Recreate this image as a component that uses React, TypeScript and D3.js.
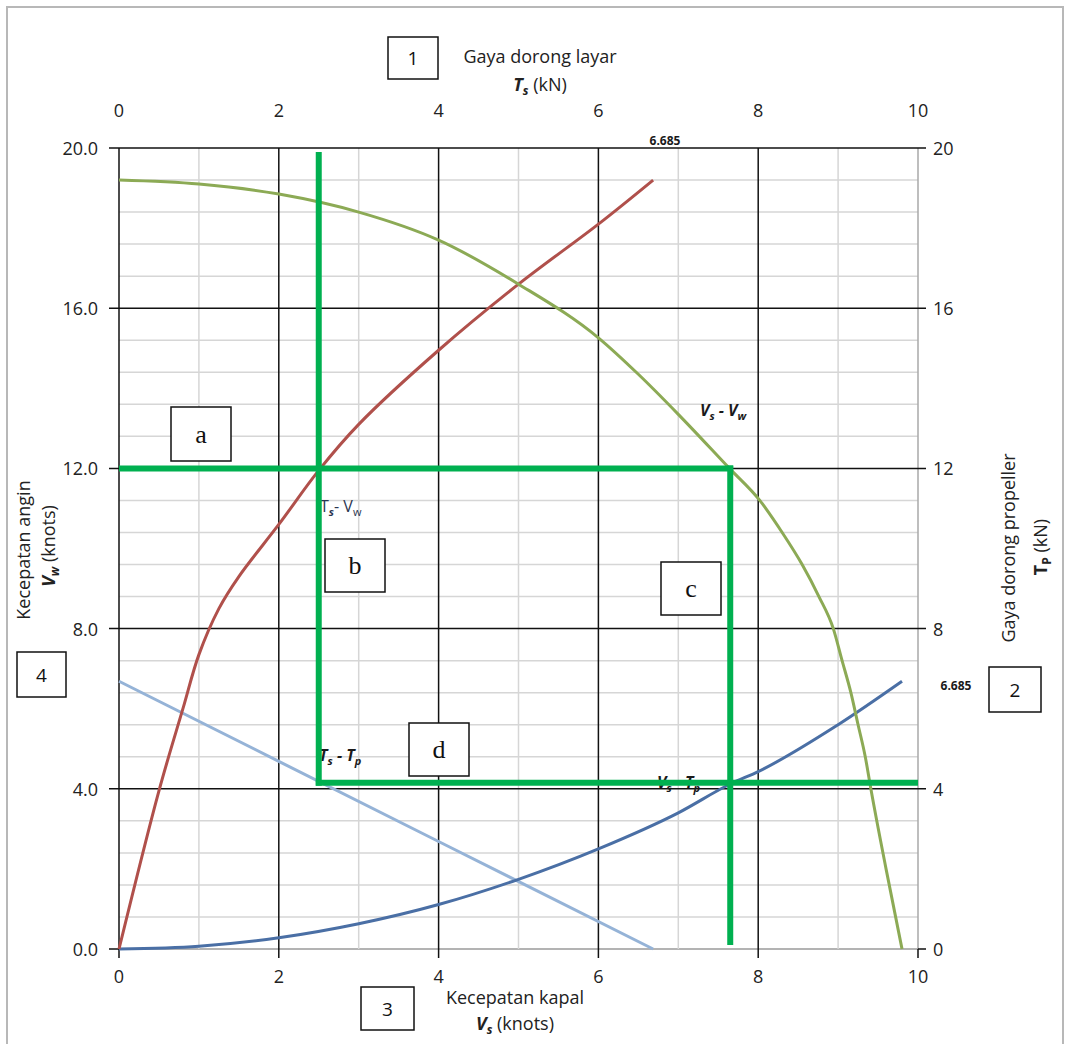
import React from "react";
import * as d3 from "d3";

// Axis ticks
const xTicks = [0, 2, 4, 6, 8, 10];
const xMinor = [1, 3, 5, 7, 9, 10];
const yTicks = [4, 8, 12, 16, 20];
const yMinor = [0, 0.8, 1.6, 2.4, 3.2, 4.8, 5.6, 6.4, 7.2, 8.8, 9.6, 10.4, 11.2, 12.8, 13.6, 14.4, 15.2, 16.8, 17.6, 18.4, 19.2];
const yLeftLabels = ["0.0", "4.0", "8.0", "12.0", "16.0", "20.0"];
const yRightLabels = ["0", "4", "8", "12", "16", "20"];
const yLabelValues = [0, 4, 8, 12, 16, 20];

// Vs - Vw : ship speed vs wind speed
const shipWindX = [0, 1, 2, 3, 4, 5, 6, 6.5, 7, 7.64, 8.02, 8.3, 8.55, 8.76, 8.94, 9.05, 9.16, 9.25, 9.34, 9.41, 9.6, 9.8];
const shipWindY = [19.2, 19.1, 18.85, 18.4, 17.7, 16.6, 15.26, 14.35, 13.35, 12, 11.2, 10.4, 9.6, 8.8, 8, 7.2, 6.4, 5.6, 4.8, 4, 2, 0];

// Ts - Vw : sail thrust vs wind speed
const sailWindX = [0, 0.5, 0.8, 1.0, 1.25, 1.5, 2, 2.5, 3, 4, 5, 6, 6.685];
const sailWindY = [0, 3.95, 6.0, 7.35, 8.5, 9.3, 10.6, 11.95, 13.1, 14.95, 16.6, 18.1, 19.2];

// Ts - Tp : sail thrust vs propeller thrust
const sailPropX = [0, 2, 4, 6.685];
const sailPropY = [6.685, 4.685, 2.685, 0];

// Vs - Tp : ship speed vs propeller thrust
const shipPropX = [0, 1, 2, 3, 4, 5, 6, 7, 7.65, 8, 9, 9.8];
const shipPropY = [0, 0.07, 0.28, 0.63, 1.11, 1.74, 2.5, 3.4, 4.12, 4.43, 5.6, 6.685];

// Reading path
const readWind = 12;
const readSail = 2.5;
const readShip = 7.65;
const readProp = 4.15;

const W = 1065;
const H = 1044;
const FONT = "'Open Sans', 'Noto Sans', sans-serif";
const SERIF = "'Liberation Serif', 'DejaVu Serif', serif";

export default function App() {
  const x = d3.scaleLinear().domain([0, 10]).range([119, 918]);
  const y = d3.scaleLinear().domain([0, 20]).range([949, 148]);

  const curve = (xs: number[], ys: number[], c: d3.CurveFactory = d3.curveMonotoneX) =>
    d3
      .line<number>()
      .x((d) => x(xs[d]))
      .y((d) => y(ys[d]))
      .curve(c)(xs.map((_, i) => i)) as string;

  const box = (x0: number, y0: number, w: number, h: number, label: string, serif: boolean, key: string) => (
    <g key={key}>
      <rect x={x0} y={y0} width={w} height={h} fill="#fff" stroke="#111" strokeWidth={1.5} />
      <text
        x={x0 + w / 2}
        y={y0 + h / 2}
        textAnchor="middle"
        dominantBaseline="central"
        fontFamily={serif ? SERIF : FONT}
        fontSize={serif ? 26 : 19}
        fill="#111"
      >
        {label}
      </text>
    </g>
  );

  const green = "#00b050";

  return (
    <svg
      width={W}
      height={H}
      style={{ position: "absolute", left: 0, top: 0, background: "#fff" }}
    >
      <rect x={0} y={0} width={W} height={H} fill="#fff" />
      <rect x={7} y={7} width={1056} height={1050} fill="none" stroke="#b8b8b8" strokeWidth={2} />

      {/* minor grid */}
      {yMinor.map((v) => (
        <line key={"ym" + v} x1={x(0)} x2={x(10)} y1={y(v)} y2={y(v)} stroke={v === 0 ? "#9a9a9a" : "#d6d6d6"} strokeWidth={1.5} />
      ))}
      {xMinor.map((v) => (
        <line key={"xm" + v} x1={x(v)} x2={x(v)} y1={y(20)} y2={y(0)} stroke={v === 10 ? "#a8a8a8" : "#d6d6d6"} strokeWidth={1.5} />
      ))}

      {/* major grid with tick extensions */}
      {yTicks.map((v) => (
        <line key={"yM" + v} x1={x(0) - 10} x2={x(10) + 8} y1={y(v)} y2={y(v)} stroke="#111" strokeWidth={1.5} />
      ))}
      <line x1={x(0) - 10} x2={x(0)} y1={y(0)} y2={y(0)} stroke="#111" strokeWidth={1.5} />
      <line x1={x(10)} x2={x(10) + 8} y1={y(0)} y2={y(0)} stroke="#111" strokeWidth={1.5} />
      {xTicks.map((v) =>
        v < 10 ? (
          <line key={"xM" + v} x1={x(v)} x2={x(v)} y1={y(20)} y2={y(0) + 9} stroke="#111" strokeWidth={1.5} />
        ) : (
          <line key={"xM" + v} x1={x(v)} x2={x(v)} y1={y(0)} y2={y(0) + 9} stroke="#111" strokeWidth={1.5} />
        )
      )}

      {/* tick labels */}
      {xTicks.map((v) => (
        <text key={"xt" + v} x={x(v)} y={117} textAnchor="middle" fontFamily={FONT} fontSize={18} fill="#222">
          {v}
        </text>
      ))}
      {xTicks.map((v) => (
        <text key={"xb" + v} x={x(v)} y={983} textAnchor="middle" fontFamily={FONT} fontSize={18} fill="#222">
          {v}
        </text>
      ))}
      {yLabelValues.map((v, i) => (
        <text key={"yl" + v} x={98} y={y(v) + 7} textAnchor="end" fontFamily={FONT} fontSize={18} fill="#222">
          {yLeftLabels[i]}
        </text>
      ))}
      {yLabelValues.map((v, i) => (
        <text key={"yr" + v} x={933} y={y(v) + 7} textAnchor="start" fontFamily={FONT} fontSize={18} fill="#222">
          {yRightLabels[i]}
        </text>
      ))}

      {/* curves */}
      <path d={curve(sailPropX, sailPropY, d3.curveLinear)} fill="none" stroke="#95b3d7" strokeWidth={3} />
      <path d={curve(shipPropX, shipPropY)} fill="none" stroke="#4a6fa5" strokeWidth={3} />
      <path d={curve(sailWindX, sailWindY, d3.curveCatmullRom.alpha(0.5))} fill="none" stroke="#b0504b" strokeWidth={3} />
      <path d={curve(shipWindX, shipWindY)} fill="none" stroke="#8caa55" strokeWidth={3} />

      {/* curve labels */}
      <text x={700} y={416} fontFamily={FONT} fontSize={16} fontWeight="bold" fontStyle="italic" fill="#1a1a1a">
        V<tspan fontSize={11} dy={4}>s</tspan>
        <tspan dy={-4}> - V</tspan>
        <tspan fontSize={11} dy={4}>w</tspan>
      </text>
      <text x={320} y={512} fontFamily={FONT} fontSize={16} fill="#2a3550">
        T<tspan fontSize={11} dy={4} fontStyle="italic" fontWeight="bold">s</tspan>
        <tspan dy={-4}>- V</tspan>
        <tspan fontSize={11} dy={4}>w</tspan>
      </text>
      <text x={319} y={761} fontFamily={FONT} fontSize={16} fontWeight="bold" fontStyle="italic" fill="#1a1a1a">
        T<tspan fontSize={11} dy={4}>s</tspan>
        <tspan dy={-4}> - T</tspan>
        <tspan fontSize={11} dy={4}>p</tspan>
      </text>
      <text x={657} y={788} fontFamily={FONT} fontSize={16} fontWeight="bold" fontStyle="italic" fill="#1a1a1a">
        V<tspan fontSize={11} dy={4}>s</tspan>
        <tspan dy={-4}> - T</tspan>
        <tspan fontSize={11} dy={4}>p</tspan>
      </text>
      <text x={665} y={145} textAnchor="middle" fontFamily={FONT} fontSize={12} fontWeight="bold" fill="#1a1a1a">
        6.685
      </text>
      <text x={956} y={690} textAnchor="middle" fontFamily={FONT} fontSize={12} fontWeight="bold" fill="#1a1a1a">
        6.685
      </text>

      {/* reading path */}
      <g stroke={green} strokeWidth={6} fill="none" strokeLinecap="butt">
        <line x1={x(0)} x2={x(readShip) + 3} y1={y(readWind)} y2={y(readWind)} />
        <line x1={x(readSail)} x2={x(readSail)} y1={y(19.9)} y2={y(readProp) + 3} />
        <line x1={x(readSail) - 3} x2={x(10)} y1={y(readProp)} y2={y(readProp)} />
        <line x1={x(readShip)} x2={x(readShip)} y1={y(readWind) - 3} y2={y(0.1)} />
      </g>

      {/* step boxes */}
      {box(388, 37, 50, 42, "1", false, "b1")}
      {box(989, 667, 52, 45, "2", false, "b2")}
      {box(361, 987, 53, 43, "3", false, "b3")}
      {box(17, 652, 49, 45, "4", false, "b4")}
      {box(171, 407, 60, 54, "a", true, "ba")}
      {box(325, 539, 60, 53, "b", true, "bb")}
      {box(661, 562, 60, 53, "c", true, "bc")}
      {box(409, 723, 60, 53, "d", true, "bd")}

      {/* axis titles */}
      <text x={540} y={63} textAnchor="middle" fontFamily={FONT} fontSize={18} fill="#222">
        Gaya dorong layar
      </text>
      <text x={540} y={91} textAnchor="middle" fontFamily={FONT} fontSize={18} fill="#222">
        <tspan fontWeight="bold" fontStyle="italic">T</tspan>
        <tspan fontWeight="bold" fontStyle="italic" fontSize={12} dy={4}>s</tspan>
        <tspan dy={-4}>{"  (kN)"}</tspan>
      </text>
      <text x={515} y={1004} textAnchor="middle" fontFamily={FONT} fontSize={18} fill="#222">
        Kecepatan kapal
      </text>
      <text x={515} y={1030} textAnchor="middle" fontFamily={FONT} fontSize={18} fill="#222">
        <tspan fontWeight="bold" fontStyle="italic">V</tspan>
        <tspan fontWeight="bold" fontStyle="italic" fontSize={12} dy={4}>s</tspan>
        <tspan dy={-4}> (knots)</tspan>
      </text>
      <g transform="translate(30,550) rotate(-90)">
        <text x={0} y={0} textAnchor="middle" fontFamily={FONT} fontSize={18} fill="#222">
          Kecepatan angin
        </text>
      </g>
      <g transform="translate(55,546) rotate(-90)">
        <text x={0} y={0} textAnchor="middle" fontFamily={FONT} fontSize={18} fill="#222">
          <tspan fontWeight="bold" fontStyle="italic">V</tspan>
          <tspan fontWeight="bold" fontStyle="italic" fontSize={12} dy={4}>w</tspan>
          <tspan dy={-4}> (knots)</tspan>
        </text>
      </g>
      <g transform="translate(1015,548) rotate(-90)">
        <text x={0} y={0} textAnchor="middle" fontFamily={FONT} fontSize={18} fill="#222">
          Gaya dorong propeller
        </text>
      </g>
      <g transform="translate(1047,547) rotate(-90)">
        <text x={0} y={0} textAnchor="middle" fontFamily={FONT} fontSize={18} fill="#222">
          <tspan fontWeight="bold">T</tspan>
          <tspan fontWeight="bold" fontSize={12} dy={4}>P</tspan>
          <tspan dy={-4}>{"  (kN)"}</tspan>
        </text>
      </g>
    </svg>
  );
}
